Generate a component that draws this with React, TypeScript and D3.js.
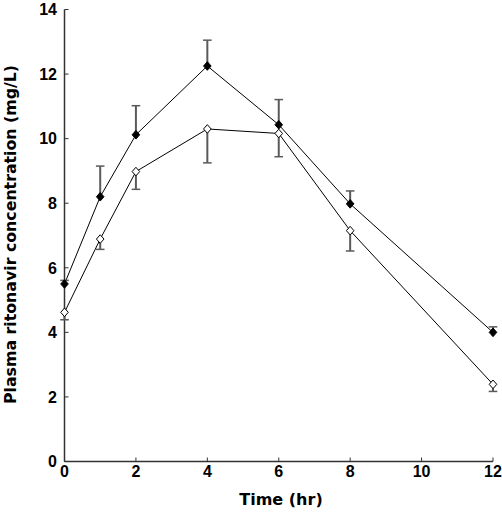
import React from "react";
import * as d3 from "d3";

const times = [0, 1, 2, 4, 6, 8, 12];
const filledMean = [5.5, 8.2, 10.12, 12.25, 10.43, 7.98, 4.0];
const filledErrUp = [0.11, 0.95, 0.9, 0.8, 0.78, 0.4, 0.17];
const openMean = [4.62, 6.89, 8.98, 10.3, 10.16, 7.15, 2.39];
const openErrDown = [0.23, 0.32, 0.55, 1.05, 0.72, 0.63, 0.22];
const xTicks = [0, 2, 4, 6, 8, 10, 12];
const yTicks = [0, 2, 4, 6, 8, 10, 12, 14];
const xTitle = "Time (hr)";
const yTitle = "Plasma ritonavir concentration (mg/L)";

const W = 502;
const H = 522;

export default function App() {
  const x = d3.scaleLinear().domain([0, 12]).range([64.5, 493]);
  const y = d3.scaleLinear().domain([0, 14]).range([461.5, 9.5]);
  const line = d3
    .line<[number, number]>()
    .x((d) => x(d[0]))
    .y((d) => y(d[1]));
  const fPts: [number, number][] = times.map((t, i) => [t, filledMean[i]]);
  const oPts: [number, number][] = times.map((t, i) => [t, openMean[i]]);
  const diamond = (cx: number, cy: number) =>
    `M${cx},${cy - 4.3}L${cx + 3.8},${cy}L${cx},${cy + 4.3}L${cx - 3.8},${cy}Z`;
  const errColor = "#5a5a5a";
  const axisColor = "#333";
  const tickFont = "'Liberation Sans', Arial, sans-serif";
  const titleFont = "'DejaVu Sans', sans-serif";
  const x0 = x(0);
  const yBase = y(0);

  return (
    <svg
      width={W}
      height={H}
      style={{ position: "absolute", left: 0, top: 0, background: "#fff" }}
    >
      {/* axes */}
      <line x1={x0} x2={x0} y1={y(14)} y2={yBase} stroke={axisColor} strokeWidth={1.5} />
      <line x1={x0} x2={x(12)} y1={yBase} y2={yBase} stroke={axisColor} strokeWidth={1.5} />
      {yTicks.map((v) => (
        <g key={"y" + v}>
          <line x1={x0} x2={x0 + 4} y1={y(v)} y2={y(v)} stroke={axisColor} strokeWidth={1} />
          <text
            x={57}
            y={y(v)}
            dy="0.36em"
            textAnchor="end"
            fontFamily={tickFont}
            fontWeight="bold"
            fontSize={16}
            fill="#000"
          >
            {v}
          </text>
        </g>
      ))}
      {xTicks.map((v) => (
        <g key={"x" + v}>
          <line x1={x(v)} x2={x(v)} y1={yBase} y2={yBase - 4} stroke={axisColor} strokeWidth={1} />
          <text
            x={x(v)}
            y={476.5}
            textAnchor="middle"
            fontFamily={tickFont}
            fontWeight="bold"
            fontSize={16}
            fill="#000"
          >
            {v}
          </text>
        </g>
      ))}
      <text
        x={281}
        y={505}
        textAnchor="middle"
        fontFamily={titleFont}
        fontWeight="bold"
        fontSize={16}
        fill="#000"
      >
        {xTitle}
      </text>
      <text
        transform={`translate(16,234.5) rotate(-90)`}
        textAnchor="middle"
        fontFamily={titleFont}
        fontWeight="bold"
        fontSize={16}
        textLength={339}
        lengthAdjust="spacingAndGlyphs"
        fill="#000"
      >
        {yTitle}
      </text>

      {/* lines */}
      <path d={line(fPts) || ""} fill="none" stroke="#000" strokeWidth={1} />
      <path d={line(oPts) || ""} fill="none" stroke="#000" strokeWidth={1} />

      {/* error bars */}
      {times.map((t, i) => {
        const cx = x(t);
        const top = y(filledMean[i] + filledErrUp[i]);
        return (
          <g key={"fe" + i}>
            <line x1={cx} x2={cx} y1={y(filledMean[i])} y2={top} stroke={errColor} strokeWidth={2} />
            <line x1={cx - 4.3} x2={cx + 4.3} y1={top} y2={top} stroke={errColor} strokeWidth={1.5} />
          </g>
        );
      })}
      {times.map((t, i) => {
        const cx = x(t);
        const bot = y(openMean[i] - openErrDown[i]);
        return (
          <g key={"oe" + i}>
            <line x1={cx} x2={cx} y1={y(openMean[i])} y2={bot} stroke={errColor} strokeWidth={2} />
            <line x1={cx - 4.3} x2={cx + 4.3} y1={bot} y2={bot} stroke={errColor} strokeWidth={1.5} />
          </g>
        );
      })}

      {/* markers */}
      {fPts.map((p, i) => (
        <path key={"fm" + i} d={diamond(x(p[0]), y(p[1]))} fill="#000" stroke="#000" strokeWidth={1} />
      ))}
      {oPts.map((p, i) => (
        <path key={"om" + i} d={diamond(x(p[0]), y(p[1]))} fill="#fff" stroke="#000" strokeWidth={1} />
      ))}
    </svg>
  );
}
